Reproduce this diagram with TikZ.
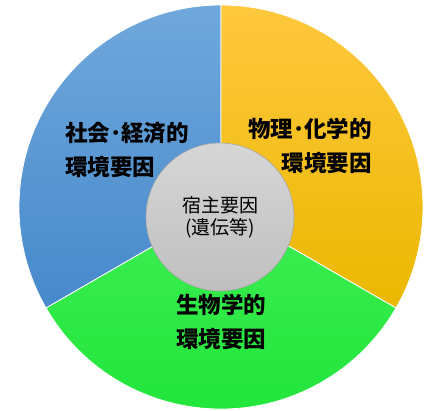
\documentclass[tikz,border=0pt]{standalone}
\usepackage{fontspec}
\newfontfamily\jpfont{Noto Sans CJK JP}
\definecolor{socialtop}{RGB}{112,168,220}
\definecolor{socialbot}{RGB}{70,137,203}
\definecolor{phystop}{RGB}{255,200,62}
\definecolor{physbot}{RGB}{234,184,0}
\definecolor{biotop}{RGB}{62,238,82}
\definecolor{biobot}{RGB}{30,228,56}
\tikzset{
  sector/.style={draw=white, line width=0.8pt},
  biglabel/.style={font=\jpfont\bfseries\fontsize{22.5}{34}\selectfont, inner sep=0pt},
  hostlabel/.style={font=\jpfont\fontsize{19}{22}\selectfont, align=center, inner sep=0pt}
}
\begin{document}
\begin{tikzpicture}[x=1pt,y=1pt]
    \useasboundingbox (0,0) rectangle (430,-410);
    \coordinate (c) at (221,-207);
    % three sectors
    \draw [sector, top color=socialtop, bottom color=socialbot] (c) -- ++(90:202) arc (90:210:202) -- cycle;
    \draw [sector, top color=phystop, bottom color=physbot] (c) -- ++(90:202) arc (90:-30:202) -- cycle;
    \draw [sector, top color=biotop, bottom color=biobot] (c) -- ++(210:202) arc (210:330:202) -- cycle;
    % host factor in the middle
    \node [circle, minimum size=148pt, draw=black!35, line width=0.6pt,
           top color=black!16, bottom color=black!25] (host) at (220,-217) {};
    \node [hostlabel] (hosttext) at (host) {宿主要因\\(遺伝等)};
    \node [biglabel, align=left, anchor=west] (social) at (65,-150) {社会･経済的\\環境要因};
    \node [biglabel, align=right, anchor=east] (phys) at (372,-146) {物理･化学的\\環境要因};
    \node [biglabel, align=left, anchor=west] (bio) at (176,-322) {生物学的\\環境要因};
\end{tikzpicture}
\end{document}
